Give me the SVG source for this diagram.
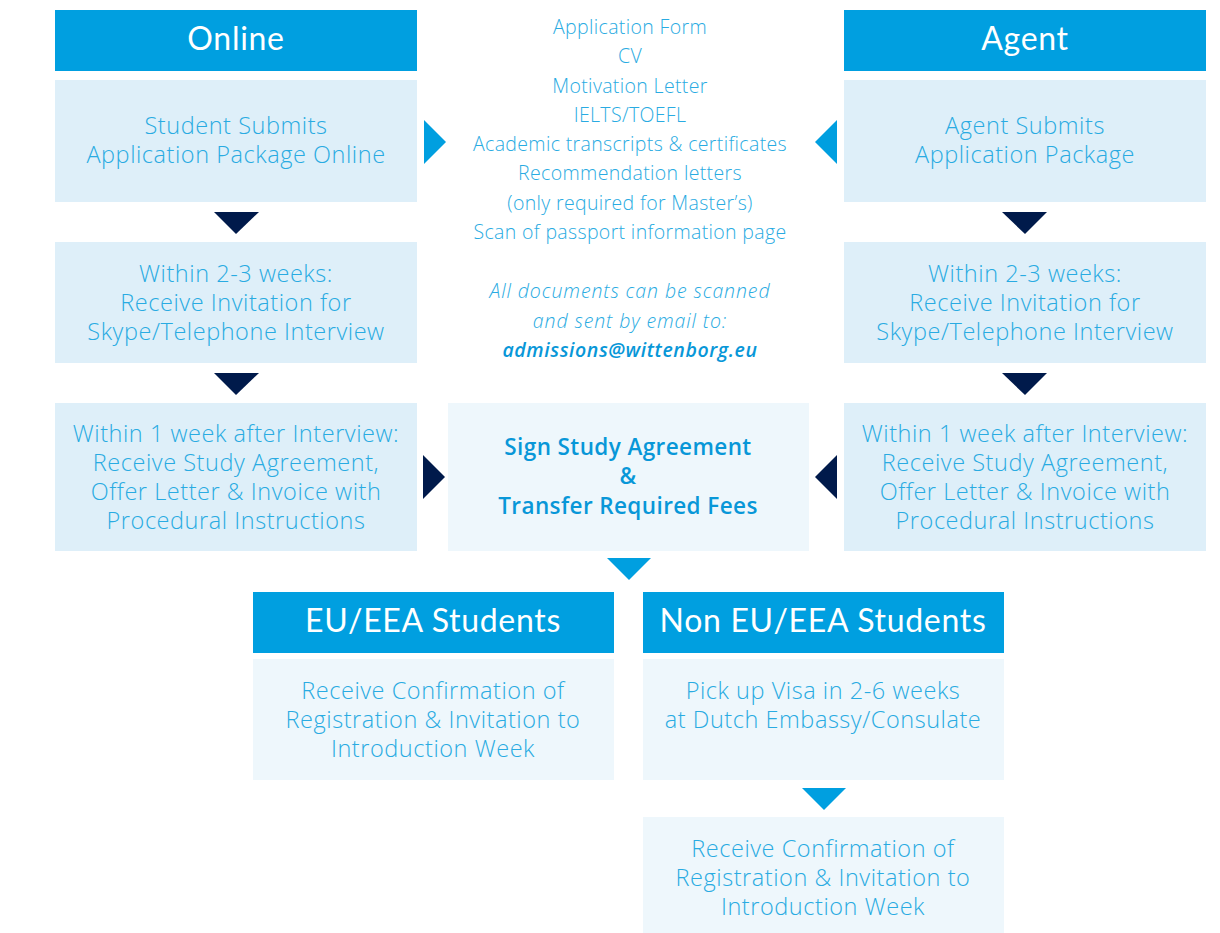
<svg xmlns="http://www.w3.org/2000/svg" width="1220" height="933" viewBox="0 0 1220 933">
<style>
.hdr{fill:#009FE0}
.b1{fill:#DEEFF9}
.b2{fill:#EEF7FC}
.ht{font-family:"Lato","Open Sans",sans-serif;font-size:32px;letter-spacing:0.7px;fill:#FFFFFF;text-anchor:middle}
.t{font-family:"Open Sans","Noto Sans",sans-serif;font-weight:300;font-size:23.5px;letter-spacing:0.55px;fill:#29ABE2;text-anchor:middle}
.s{font-family:"Open Sans","Noto Sans",sans-serif;font-weight:300;font-size:19.5px;letter-spacing:0.35px;fill:#29ABE2;text-anchor:middle}
.i{font-style:italic;letter-spacing:0.9px}
.em{font-weight:600;letter-spacing:0.6px;fill:#0897D8}
.bold{font-weight:600;font-size:22.5px;letter-spacing:0.4px;fill:#0897D8}
.ab{fill:#009FE0}
.an{fill:#001A4B}
</style>
<rect width="1220" height="933" fill="#FFFFFF"/>
<g id="online-header"><rect class="hdr" x="55" y="10" width="362" height="61"/><text class="ht" x="236" y="50">Online</text></g>
<g id="online-submit"><rect class="b1" x="55" y="80" width="362" height="122"/><text class="t" x="236" y="134">Student Submits</text><text class="t" x="236" y="163">Application Package Online</text></g>
<g id="online-interview"><rect class="b1" x="55" y="242" width="362" height="121"/><text class="t" x="236" y="282">Within 2-3 weeks:</text><text class="t" x="236" y="311">Receive Invitation for</text><text class="t" x="236" y="340">Skype/Telephone Interview</text></g>
<g id="online-agreement"><rect class="b1" x="55" y="403" width="362" height="148"/><text class="t" x="236" y="442">Within 1 week after Interview:</text><text class="t" x="236" y="471">Receive Study Agreement,</text><text class="t" x="236" y="500">Offer Letter &amp; Invoice with</text><text class="t" x="236" y="529">Procedural Instructions</text></g>
<g id="agent-header"><rect class="hdr" x="844" y="10" width="362" height="61"/><text class="ht" x="1025" y="50">Agent</text></g>
<g id="agent-submit"><rect class="b1" x="844" y="80" width="362" height="122"/><text class="t" x="1025" y="134">Agent Submits</text><text class="t" x="1025" y="163">Application Package</text></g>
<g id="agent-interview"><rect class="b1" x="844" y="242" width="362" height="121"/><text class="t" x="1025" y="282">Within 2-3 weeks:</text><text class="t" x="1025" y="311">Receive Invitation for</text><text class="t" x="1025" y="340">Skype/Telephone Interview</text></g>
<g id="agent-agreement"><rect class="b1" x="844" y="403" width="362" height="148"/><text class="t" x="1025" y="442">Within 1 week after Interview:</text><text class="t" x="1025" y="471">Receive Study Agreement,</text><text class="t" x="1025" y="500">Offer Letter &amp; Invoice with</text><text class="t" x="1025" y="529">Procedural Instructions</text></g>
<g id="documents">
<text class="s" x="630" y="34">Application Form</text>
<text class="s" x="630" y="63">CV</text>
<text class="s" x="630" y="93">Motivation Letter</text>
<text class="s" x="630" y="122">IELTS/TOEFL</text>
<text class="s" x="630" y="151">Academic transcripts &amp; certificates</text>
<text class="s" x="630" y="180">Recommendation letters</text>
<text class="s" x="630" y="210">(only required for Master’s)</text>
<text class="s" x="630" y="239">Scan of passport information page</text>
<text class="s i" x="630" y="298">All documents can be scanned</text>
<text class="s i" x="630" y="328">and sent by email to:</text>
<text class="s i em" x="630" y="357">admissions@wittenborg.eu</text>
</g>
<g id="sign-agreement"><rect class="b2" x="448" y="403" width="361" height="148"/><text class="t bold" x="628" y="455">Sign Study Agreement</text><text class="t bold" x="628" y="484">&amp;</text><text class="t bold" x="628" y="514">Transfer Required Fees</text></g>
<g id="eu-header"><rect class="hdr" x="253" y="592" width="361" height="61"/><text class="ht" x="433" y="632">EU/EEA Students</text></g>
<g id="eu-confirm"><rect class="b2" x="253" y="659" width="361" height="121"/><text class="t" x="433" y="699">Receive Confirmation of</text><text class="t" x="433" y="728">Registration &amp; Invitation to</text><text class="t" x="433" y="757">Introduction Week</text></g>
<g id="noneu-header"><rect class="hdr" x="643" y="592" width="361" height="61"/><text class="ht" x="823" y="632">Non EU/EEA Students</text></g>
<g id="noneu-visa"><rect class="b2" x="643" y="659" width="361" height="121"/><text class="t" x="823" y="699">Pick up Visa in 2-6 weeks</text><text class="t" x="823" y="728">at Dutch Embassy/Consulate</text></g>
<g id="noneu-confirm"><rect class="b2" x="643" y="817" width="361" height="116"/><text class="t" x="823" y="857">Receive Confirmation of</text><text class="t" x="823" y="886">Registration &amp; Invitation to</text><text class="t" x="823" y="915">Introduction Week</text></g>
<g id="connectors">
<polygon class="ab" points="424,120 446,142 424,164"/>
<polygon class="ab" points="837,120 815,142 837,164"/>
<polygon class="an" points="214,212 259,212 236,234"/>
<polygon class="an" points="214,373 259,373 236,395"/>
<polygon class="an" points="1002,212 1047,212 1025,234"/>
<polygon class="an" points="1002,373 1047,373 1025,395"/>
<polygon class="an" points="423,455 445,477 423,499"/>
<polygon class="an" points="837,455 815,477 837,499"/>
<polygon class="ab" points="607,558 651,558 629,580"/>
<polygon class="ab" points="802,788 846,788 824,810"/>
</g>
</svg>
